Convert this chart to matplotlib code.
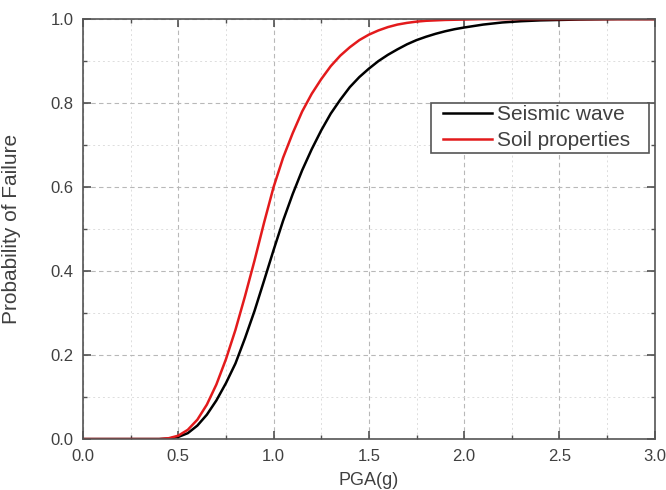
import matplotlib
matplotlib.use("Agg")
import matplotlib.pyplot as plt
from matplotlib.ticker import MultipleLocator
from matplotlib.legend_handler import HandlerLine2D

# values
pga = [0.0, 0.40, 0.45, 0.50, 0.55, 0.60, 0.65, 0.70, 0.75, 0.80, 0.85, 0.90,
       0.95, 1.00, 1.05, 1.10, 1.15, 1.20, 1.25, 1.30, 1.35, 1.40, 1.45, 1.50,
       1.55, 1.60, 1.65, 1.70, 1.75, 1.80, 1.85, 1.90, 1.95, 2.00, 2.10, 2.20,
       2.30, 2.40, 2.50, 2.60, 2.80, 3.00]
seismic_wave = [0.0, 0.0, 0.001, 0.005, 0.014, 0.032, 0.058, 0.092, 0.133, 0.18,
                0.24, 0.305, 0.377, 0.45, 0.52, 0.583, 0.64, 0.69, 0.735, 0.775,
                0.808, 0.838, 0.862, 0.882, 0.90, 0.915, 0.928, 0.94, 0.95, 0.958,
                0.965, 0.971, 0.976, 0.98, 0.987, 0.992, 0.995, 0.997, 0.998,
                0.999, 1.0, 1.0]
soil_properties = [0.0, 0.0, 0.002, 0.008, 0.022, 0.046, 0.082, 0.13, 0.19, 0.26,
                   0.34, 0.425, 0.515, 0.60, 0.67, 0.728, 0.78, 0.822, 0.857, 0.888,
                   0.913, 0.933, 0.95, 0.963, 0.973, 0.981, 0.987, 0.991, 0.994,
                   0.996, 0.997, 0.998, 0.9985, 0.999, 1.0, 1.0, 1.0, 1.0, 1.0,
                   1.0, 1.0, 1.0]

plt.rcParams['font.family'] = ['Liberation Sans', 'DejaVu Sans']

fig = plt.figure(figsize=(6.66, 4.9), dpi=100)
ax = fig.add_axes([0.1246, 0.104, 0.8585, 0.857])

l1, = ax.plot(pga, seismic_wave, color='black', lw=1.8, label='Seismic wave   ',
              solid_joinstyle='round')
l2, = ax.plot(pga, soil_properties, color='#e31a1c', lw=1.8,
              label='Soil properties   ', solid_joinstyle='round')

ax.set_xlim(0, 3.0)
ax.set_ylim(0, 1.0)
ax.xaxis.set_major_locator(MultipleLocator(0.5))
ax.xaxis.set_minor_locator(MultipleLocator(0.25))
ax.yaxis.set_major_locator(MultipleLocator(0.2))
ax.yaxis.set_minor_locator(MultipleLocator(0.1))
ax.xaxis.set_major_formatter(plt.FormatStrFormatter('%.1f'))
ax.yaxis.set_major_formatter(plt.FormatStrFormatter('%.1f'))

ax.grid(which='major', color='#b8b8b8', ls=(0, (4, 3)), lw=0.8)
ax.grid(which='minor', color='#dddddd', ls=(0, (2, 3)), lw=0.7)

ax.tick_params(which='both', direction='in', top=True, right=True,
               colors='#505050', labelcolor='#404040', labelsize=12)
ax.tick_params(which='major', length=6, width=1.2)
ax.tick_params(which='minor', length=3, width=1.0)
ax.tick_params(axis='x', pad=7)
ax.tick_params(axis='y', pad=7)
for s in ax.spines.values():
    s.set_color('#555555')
    s.set_linewidth(1.2)

ax.set_xlabel('PGA(g)', fontsize=13, color='#404040')
ax.xaxis.set_label_coords(0.5, -0.078)
ax.set_ylabel('Probability of Failure', fontsize=15, color='#404040')
ax.yaxis.set_label_coords(-0.108, 0.5)

hm = {l1: HandlerLine2D(xpad=0.48), l2: HandlerLine2D(xpad=0.48)}
leg = ax.legend(loc='upper right', bbox_to_anchor=(0.99, 0.80), fontsize=15,
                fancybox=False, edgecolor='#555555', framealpha=1,
                handlelength=2.84, handletextpad=0.2, borderpad=0.1,
                labelspacing=0.35, borderaxespad=0, handler_map=hm)
leg.get_frame().set_linewidth(1.2)
for t in leg.get_texts():
    t.set_color('#404040')

fig.savefig('out.png', dpi=100)
